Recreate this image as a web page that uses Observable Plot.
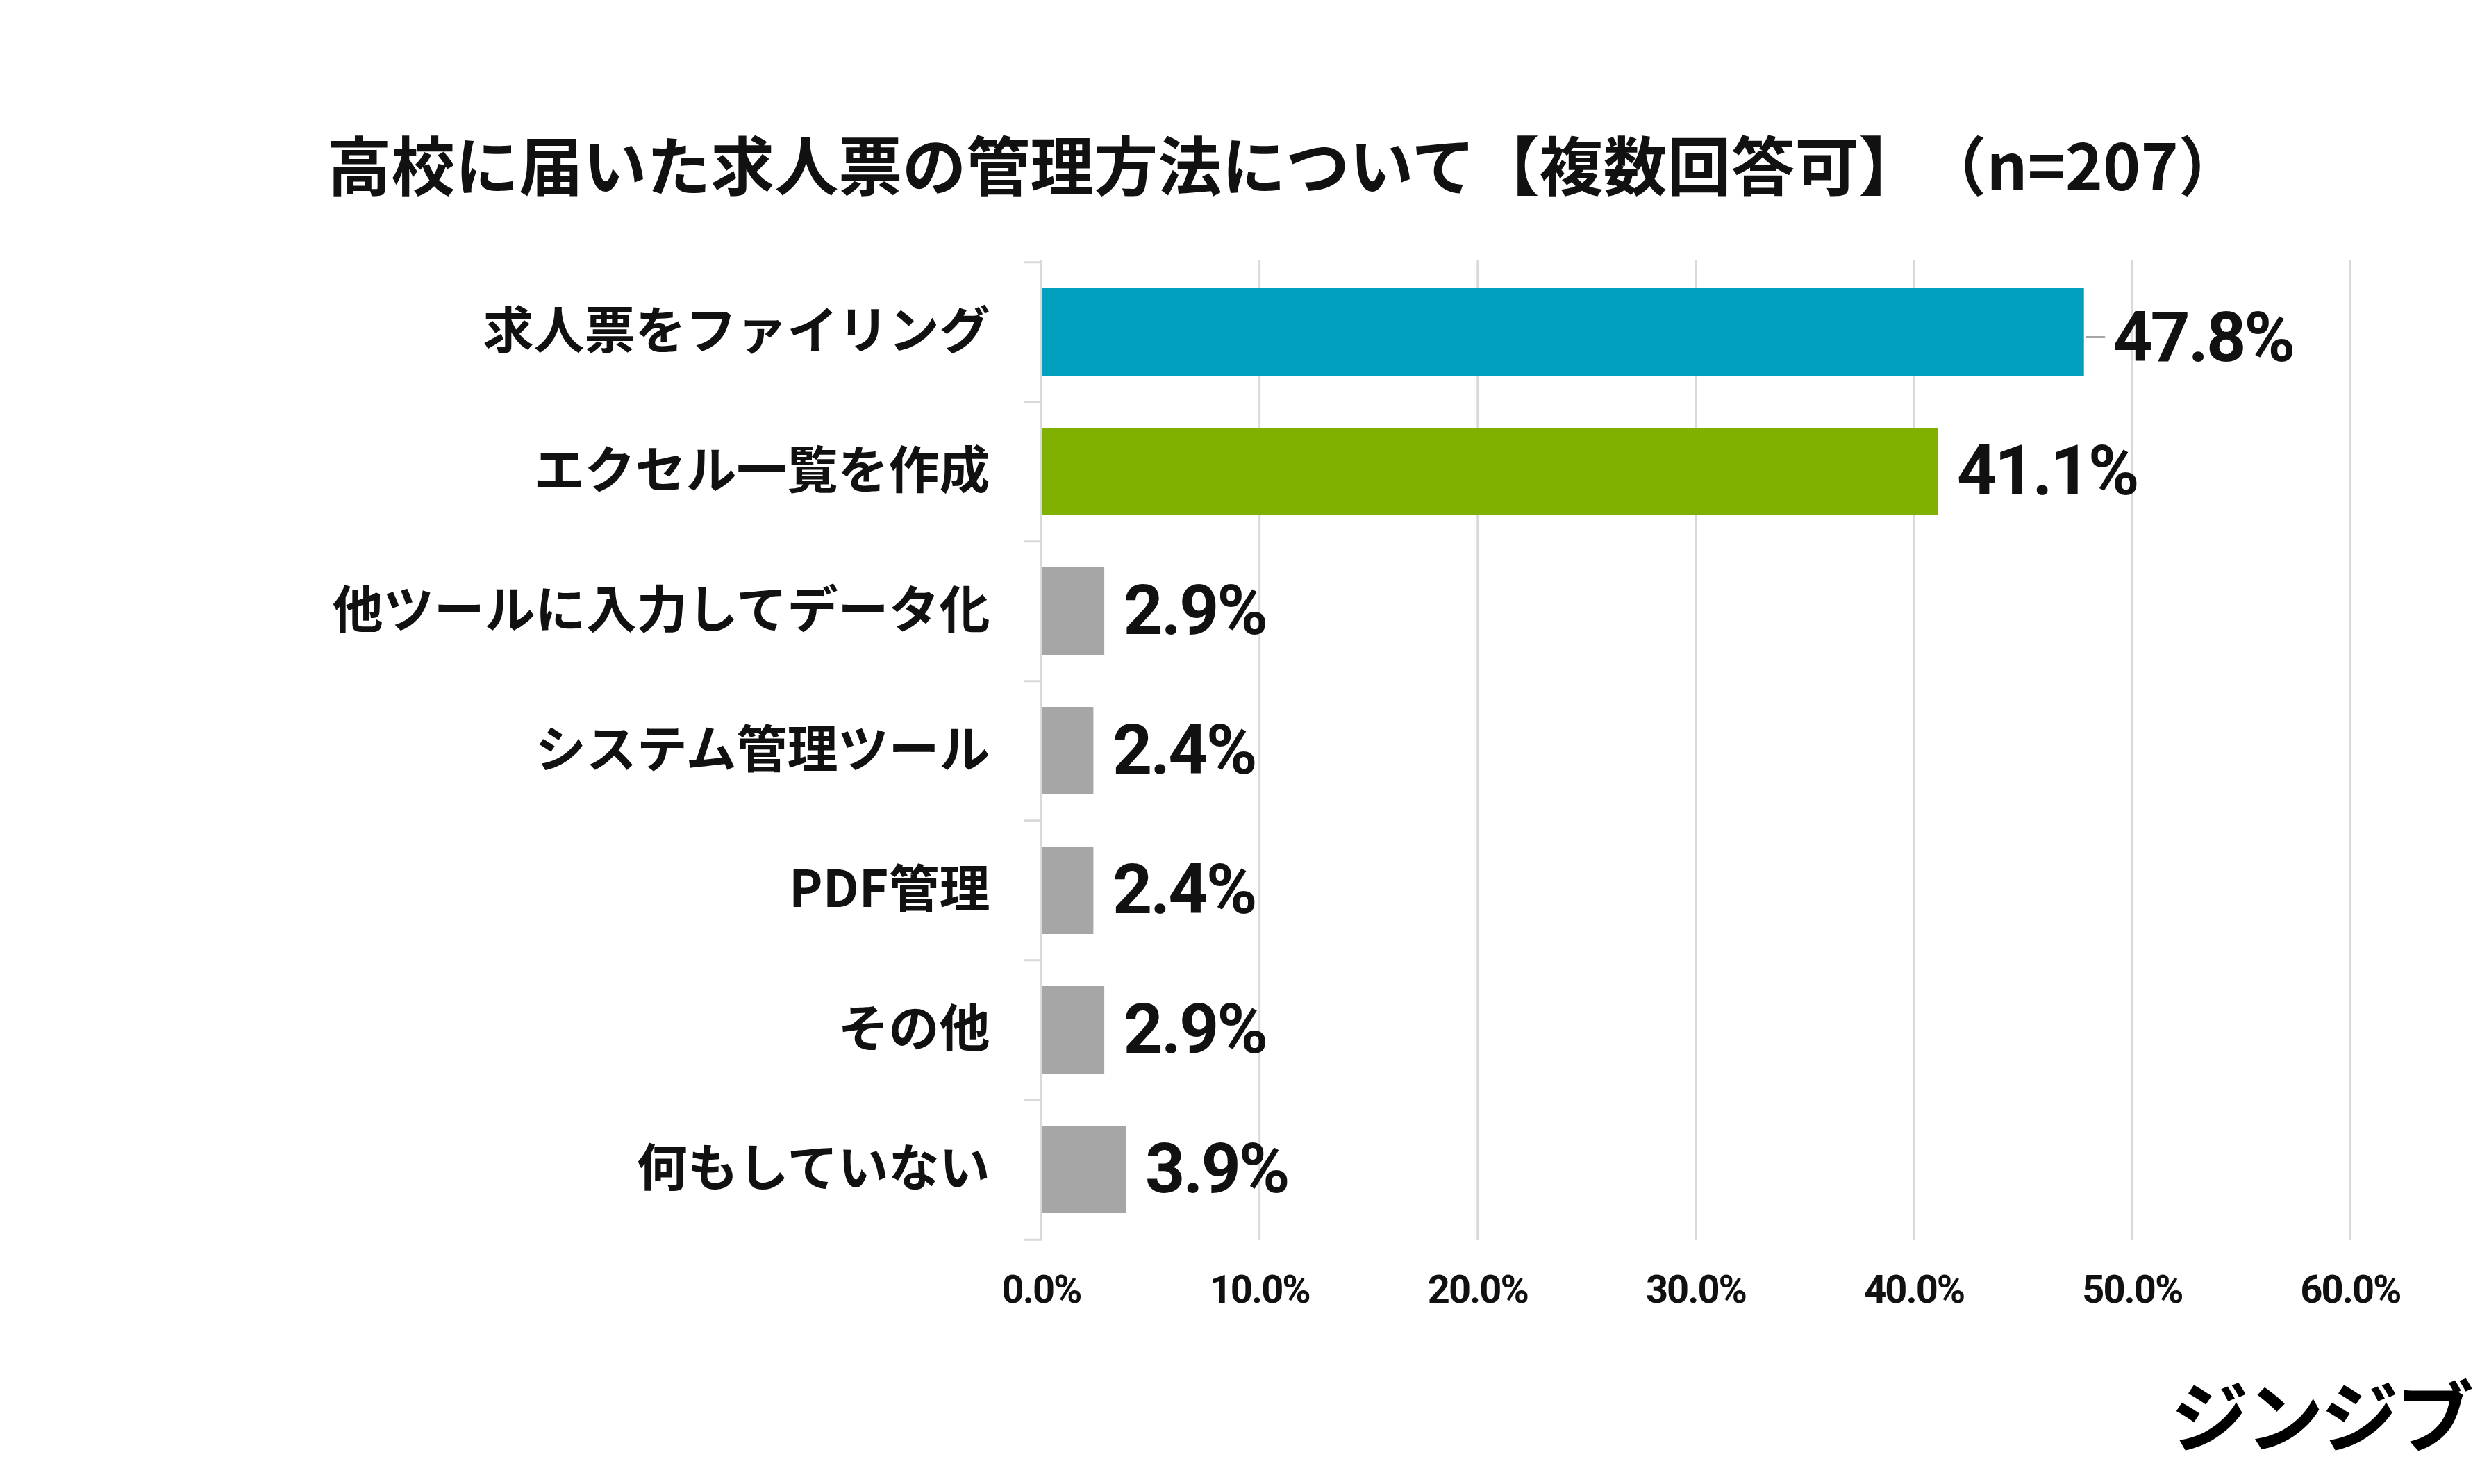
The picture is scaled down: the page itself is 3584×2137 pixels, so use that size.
<!DOCTYPE html>
<html lang="ja">
<head>
<meta charset="utf-8">
<script src="https://cdn.jsdelivr.net/npm/d3@7"></script>
<script src="https://cdn.jsdelivr.net/npm/@observablehq/plot@0.6"></script>
<style>
  html, body { margin: 0; padding: 0; background: #ffffff; }
  #wrap { position: relative; width: 3584px; height: 2137px; overflow: hidden; background: #fff; }
  #title {
    position: absolute; left: 0; top: 188px; width: 3584px; box-sizing: border-box;
    padding-left: 116px; text-align: center;
    font-family: "Noto Sans CJK JP", "Noto Sans", sans-serif; font-weight: 700;
    font-size: 92px; line-height: 92px; color: #111111; white-space: nowrap;
    text-spacing-trim: space-all; font-feature-settings: normal;
  }
  #logo {
    position: absolute; right: 26px; top: 1978px;
    font-family: "Noto Sans CJK JP", sans-serif; font-weight: 700;
    font-size: 112px; line-height: 112px; color: #000; letter-spacing: -4px; white-space: nowrap;
  }
  #chart { position: absolute; left: 0; top: 0; }
  g[aria-label="x-axis tick label"] text { letter-spacing: -2px; }
  g[aria-label="text"] text { letter-spacing: -3px; }
</style>
</head>
<body>
<div id="wrap">
  <div id="chart"></div>
  <div id="title"></div>
  <div id="logo"></div>
</div>
<script>
const titleText = "高校に届いた求人票の管理方法について【複数回答可】（n=207）";
const logoText = "ジンジブ";
const categories = [
  "求人票をファイリング",
  "エクセル一覧を作成",
  "他ツールに入力してデータ化",
  "システム管理ツール",
  "PDF管理",
  "その他",
  "何もしていない"
];
const values = [47.8, 41.1, 2.9, 2.4, 2.4, 2.9, 3.9];
const barColors = ["#00A0BE", "#80B000", "#A6A6A6", "#A6A6A6", "#A6A6A6", "#A6A6A6", "#A6A6A6"];
const leaderCategories = ["求人票をファイリング"];
const xDomain = [0, 60];
const xTicks = [0, 10, 20, 30, 40, 50, 60];

document.getElementById("title").textContent = titleText;
document.getElementById("logo").textContent = logoText;

const data = categories.map((c, i) => ({category: c, value: values[i]}));
const plain = data.filter(d => !leaderCategories.includes(d.category));
const leader = data.filter(d => leaderCategories.includes(d.category));

const W = 3584, H = 2137;
const mL = 1499, mR = 200, mT = 375, mB = 351;
const step = (H - mT - mB) / categories.length;

const lineShape = {draw(context, l) { context.moveTo(0, 0); context.lineTo(0, -l); }};
const fmt = d => d.toFixed(1) + "%";

const chart = Plot.plot({
  width: W, height: H,
  marginLeft: mL, marginRight: mR, marginTop: mT, marginBottom: mB,
  style: {background: "transparent", color: "#111111"},
  x: {domain: xDomain, label: null},
  y: {domain: categories, paddingInner: 0.375, paddingOuter: 0.1875, label: null},
  color: {domain: categories, range: barColors},
  marks: [
    Plot.ruleX(xTicks, {stroke: "#D9D9D9", strokeWidth: 3}),
    Plot.vector(categories, {x: 0, y: d => d, rotate: -90, length: 24, anchor: "start",
      shape: lineShape, stroke: "#D9D9D9", strokeWidth: 3, dy: -step / 2}),
    Plot.vector(categories.slice(-1), {x: 0, y: d => d, rotate: -90, length: 24, anchor: "start",
      shape: lineShape, stroke: "#D9D9D9", strokeWidth: 3, dy: step / 2}),
    Plot.barX(data, {x: "value", y: "category", fill: "category", insetLeft: 1.5}),
    Plot.vector(leader, {x: "value", y: "category", rotate: 90, length: 26, anchor: "start",
      shape: lineShape, stroke: "#A6A6A6", strokeWidth: 3, dx: 3, dy: 7}),
    Plot.text(plain, {x: "value", y: "category", text: d => fmt(d.value), textAnchor: "start",
      dx: 27, dy: 0, fontSize: 100, fontWeight: 700, fontFamily: "Roboto, 'Liberation Sans', sans-serif", fill: "#111111"}),
    Plot.text(leader, {x: "value", y: "category", text: d => fmt(d.value), textAnchor: "start",
      dx: 41, dy: 9, fontSize: 100, fontWeight: 700, fontFamily: "Roboto, 'Liberation Sans', sans-serif", fill: "#111111"}),
    Plot.axisY({tickSize: 0, tickPadding: 74, label: null, fontSize: 73, fontWeight: 700,
      fontFamily: "'Noto Sans CJK JP', sans-serif", fill: "#111111"}),
    Plot.axisX({ticks: xTicks, tickFormat: fmt, tickSize: 0, tickPadding: 50, label: null,
      fontSize: 56, fontWeight: 700, fontFamily: "Roboto, 'Liberation Sans', sans-serif", fill: "#111111"})
  ]
});
document.getElementById("chart").appendChild(chart);
</script>
</body>
</html>
